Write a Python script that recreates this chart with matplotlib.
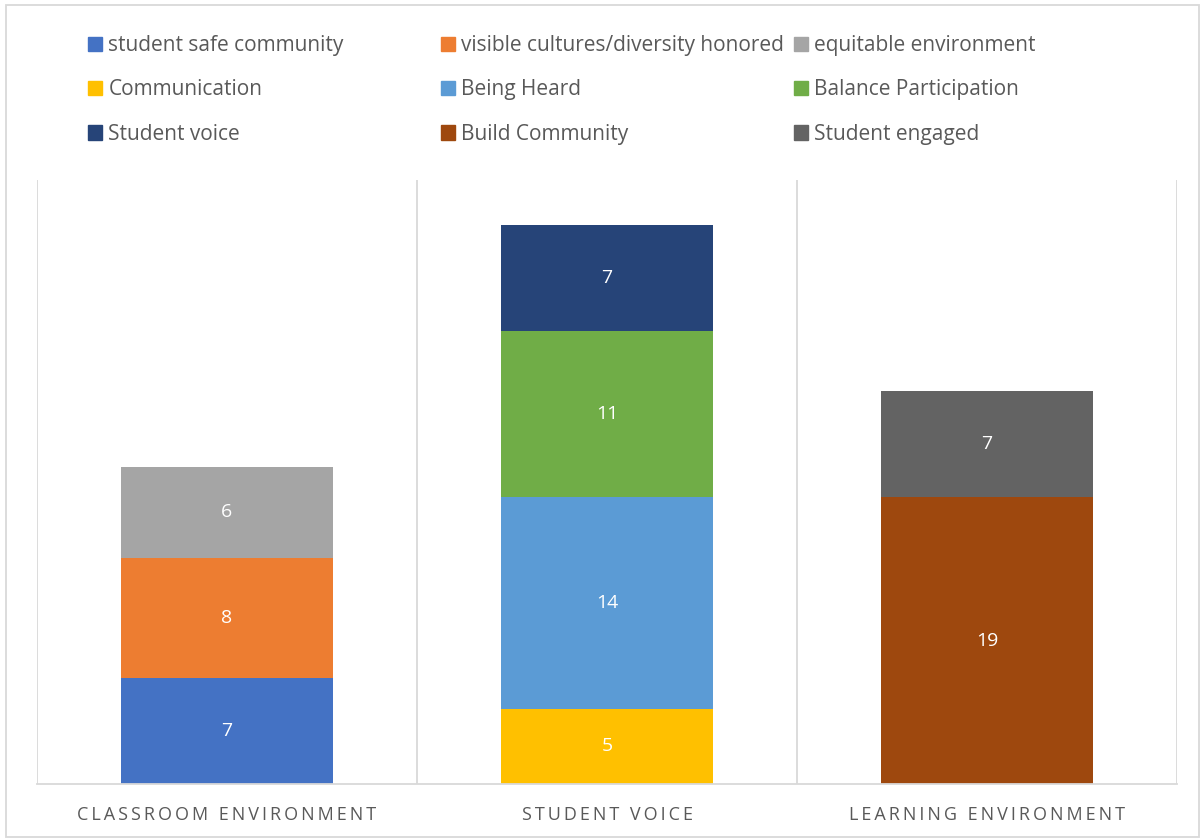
import matplotlib.pyplot as plt
from matplotlib.patches import Rectangle, Patch

categories = ['CLASSROOM ENVIRONMENT', 'STUDENT VOICE', 'LEARNING ENVIRONMENT']

# series per category, bottom to top
classroom_labels = ['student safe community', 'visible cultures/diversity honored', 'equitable environment']
classroom_values = [7, 8, 6]
voice_labels = ['Communication', 'Being Heard', 'Balance Participation', 'Student voice']
voice_values = [5, 14, 11, 7]
learning_labels = ['Build Community', 'Student engaged']
learning_values = [19, 7]

colors = {
    'student safe community': '#4472C4',
    'visible cultures/diversity honored': '#ED7D31',
    'equitable environment': '#A5A5A5',
    'Communication': '#FFC000',
    'Being Heard': '#5B9BD5',
    'Balance Participation': '#70AD47',
    'Student voice': '#264478',
    'Build Community': '#9E480E',
    'Student engaged': '#636363',
}

plt.rcParams['font.family'] = ['Open Sans', 'DejaVu Sans']

fig = plt.figure(figsize=(12.02, 8.39), dpi=100)
ax = fig.add_axes([37/1202, 55/839, 1140/1202, 604/839])

groups = [(classroom_labels, classroom_values),
          (voice_labels, voice_values),
          (learning_labels, learning_values)]
for i, (labels, values) in enumerate(groups):
    bottom = 0
    for lab, v in zip(labels, values):
        ax.bar(i, v, width=0.56, bottom=bottom, color=colors[lab], linewidth=0)
        ax.text(i, bottom + v / 2, str(v), ha='center', va='center',
                color='white', fontsize=14)
        bottom += v

ax.set_xlim(-0.5, 2.5)
ax.set_ylim(0, 40)
for x in [-0.5, 0.5, 1.5, 2.5]:
    ax.axvline(x, color='#D9D9D9', linewidth=1.3, zorder=0)
for s in ['top', 'left', 'right']:
    ax.spines[s].set_visible(False)
ax.spines['bottom'].set_color('#D9D9D9')
ax.spines['bottom'].set_linewidth(1.3)
ax.set_yticks([])
ax.set_xticks(range(len(categories)))
ax.set_xticklabels(['\u2009'.join(c) for c in categories], color='#595959', fontsize=13)
ax.tick_params(axis='x', length=0, pad=16)

# legend: three columns, filled row by row
legend_cols = [
    ['student safe community', 'Communication', 'Student voice'],
    ['visible cultures/diversity honored', 'Being Heard', 'Build Community'],
    ['equitable environment', 'Balance Participation', 'Student engaged'],
]
col_x = [88, 441, 794]
for x, names in zip(col_x, legend_cols):
    handles = [Patch(color=colors[k], label=k) for k in names]
    leg = fig.legend(handles=handles, loc='upper left', bbox_to_anchor=(x/1202, 1 - 35/839),
                     frameon=False, fontsize=15, labelcolor='#595959', handlelength=0.68,
                     handleheight=0.68, handletextpad=0.3, labelspacing=1.12,
                     borderpad=0, borderaxespad=0)

fig.patches.append(Rectangle((6/1202, 2/839), 1193/1202, 832/839, transform=fig.transFigure,
                             fill=False, edgecolor='#D9D9D9', linewidth=1.3))

fig.savefig('out.png', dpi=100, facecolor='white')
